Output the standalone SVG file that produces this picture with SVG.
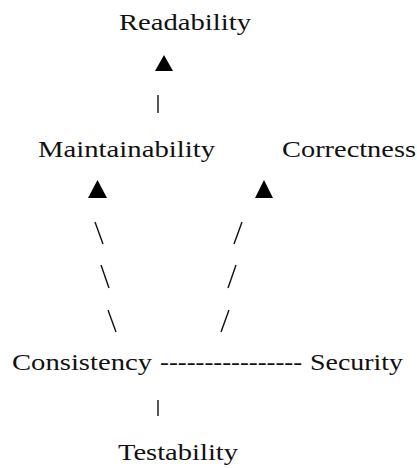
<svg xmlns="http://www.w3.org/2000/svg" width="417" height="468" viewBox="0 0 417 468">
<style>
.lbl{font-family:"Liberation Serif","DejaVu Serif",serif;font-size:23px;fill:#111}
.ln{stroke:#111;stroke-width:1.4;fill:none}
.hd{fill:#000}
</style>
<rect width="417" height="468" fill="#fff"/>
<g id="connectors">
<polygon class="hd" points="155,71 173,71 164,55"/>
<line class="ln" x1="158" y1="95" x2="158" y2="113"/>
<polygon class="hd" points="88,198 107,198 97.5,180"/>
<polygon class="hd" points="255,198 273,198 264,180"/>
<line class="ln" x1="95" y1="222" x2="103" y2="244"/>
<line class="ln" x1="101" y1="265" x2="109" y2="288"/>
<line class="ln" x1="108" y1="310" x2="116" y2="332"/>
<line class="ln" x1="242" y1="222" x2="234" y2="244"/>
<line class="ln" x1="236" y1="265" x2="228" y2="288"/>
<line class="ln" x1="229" y1="310" x2="221" y2="332"/>
<text class="lbl" x="160" y="370" textLength="142" lengthAdjust="spacingAndGlyphs">----------------</text>
<line class="ln" x1="158" y1="400" x2="158" y2="416"/>
</g>
<g id="readability"><text class="lbl" x="119" y="30" textLength="132" lengthAdjust="spacingAndGlyphs">Readability</text></g>
<g id="maintainability"><text class="lbl" x="38" y="157" textLength="177" lengthAdjust="spacingAndGlyphs">Maintainability</text></g>
<g id="correctness"><text class="lbl" x="282" y="157" textLength="134" lengthAdjust="spacingAndGlyphs">Correctness</text></g>
<g id="consistency"><text class="lbl" x="12" y="370" textLength="140" lengthAdjust="spacingAndGlyphs">Consistency</text></g>
<g id="security"><text class="lbl" x="310" y="370" textLength="93" lengthAdjust="spacingAndGlyphs">Security</text></g>
<g id="testability"><text class="lbl" x="118" y="460" textLength="120" lengthAdjust="spacingAndGlyphs">Testability</text></g>
</svg>
